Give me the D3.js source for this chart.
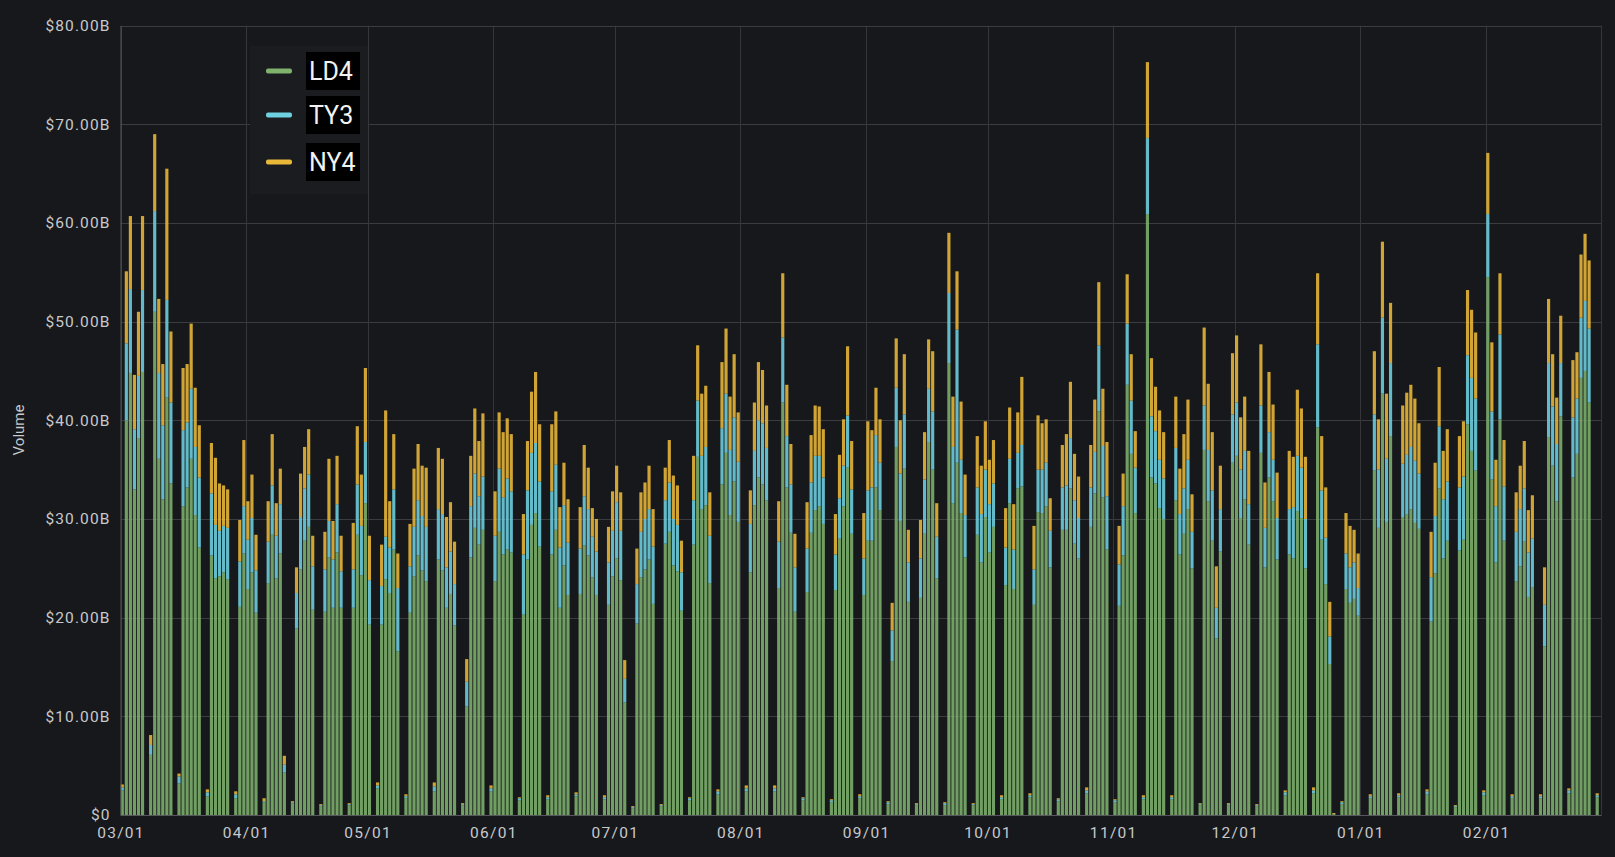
<!DOCTYPE html>
<html>
<head>
<meta charset="utf-8">
<script src="https://cdn.jsdelivr.net/npm/d3@7"></script>
<style>
  html, body { margin: 0; padding: 0; background: #17181b; }
  svg { display: block; }
  .tick text { font-family: Roboto, "Noto Sans", sans-serif; }
</style>
</head>
<body>
<div id="chart"></div>
<script>
// Daily volume in $B, one row per week (Sun, Mon .. Fri, Sat), from 2020-03-01
const startDay = '2020-03-01';
const seriesNames = ['LD4', 'TY3', 'NY4'];
const seriesColors = ['#7EB26D', '#6ED0E0', '#EAB839'];

const ld4 = [
  2.5, 40.0, 44.8, 33.0, 38.2, 44.9, 0,
  6.1, 51.0, 36.1, 32.0, 42.3, 33.6, 0,
  3.2, 31.3, 33.2, 36.1, 30.4, 27.1, 0,
  1.9, 26.3, 24.0, 24.2, 24.6, 23.9, 0,
  1.7, 21.1, 26.5, 22.9, 24.6, 20.5, 0,
  1.3, 23.5, 28.4, 24.0, 26.5, 4.3, 0,
  1.2, 18.9, 24.9, 27.8, 29.2, 20.8, 0,
  0.9, 20.6, 26.1, 21.0, 26.6, 21.0, 0,
  1.0, 21.0, 28.4, 24.3, 31.6, 19.3, 0,
  2.7, 19.3, 23.9, 22.5, 26.9, 16.6, 0,
  1.7, 20.5, 24.2, 26.3, 24.8, 23.7, 0,
  2.4, 25.9, 24.8, 21.0, 22.4, 19.2, 0,
  1.0, 11.0, 26.1, 29.1, 27.4, 28.9, 0,
  2.4, 23.7, 28.7, 26.4, 26.9, 26.6, 0,
  1.5, 20.3, 25.9, 29.4, 30.6, 27.2, 0,
  1.6, 26.4, 28.9, 21.0, 25.3, 22.3, 0,
  1.9, 22.4, 27.3, 26.3, 24.1, 22.3, 0,
  1.6, 21.3, 24.2, 26.0, 23.8, 11.4, 0,
  0.7, 19.4, 24.1, 24.9, 25.9, 21.4, 0,
  0.9, 27.5, 28.7, 25.3, 24.7, 20.7, 0,
  1.5, 27.4, 36.3, 31.0, 31.4, 23.5, 0,
  2.1, 33.5, 36.7, 30.4, 33.8, 29.7, 0,
  2.4, 24.6, 31.4, 34.2, 33.5, 31.9, 0,
  2.4, 23.0, 41.8, 33.2, 28.6, 20.6, 0,
  1.5, 22.6, 28.6, 30.9, 31.3, 29.5, 0,
  1.3, 22.8, 28.0, 31.3, 35.2, 28.5, 0,
  1.7, 22.3, 27.8, 27.8, 33.2, 30.9, 0,
  1.1, 15.6, 37.3, 29.8, 35.1, 21.6, 0,
  1.0, 22.0, 28.5, 37.8, 35.0, 24.0, 0,
  1.0, 45.8, 31.6, 35.7, 30.6, 26.1, 0,
  1.0, 28.4, 25.6, 30.2, 26.6, 29.2, 0,
  1.6, 23.3, 31.6, 22.9, 33.1, 33.3, 0,
  1.8, 21.3, 30.7, 30.6, 31.3, 25.1, 0,
  1.4, 28.9, 28.9, 33.1, 27.5, 26.0, 0,
  2.2, 29.2, 32.6, 40.9, 32.2, 26.9, 0,
  1.3, 21.2, 26.3, 43.6, 36.6, 30.6, 0,
  1.6, 60.9, 34.2, 33.6, 31.1, 30.0, 0,
  1.6, 31.9, 26.4, 28.5, 31.0, 25.0, 0,
  1.0, 37.0, 31.8, 27.8, 17.9, 26.7, 0,
  1.0, 35.7, 36.4, 30.1, 32.0, 27.4, 0,
  0.9, 36.7, 25.1, 34.2, 31.8, 25.9, 0,
  2.0, 26.4, 26.0, 30.8, 30.1, 25.0, 0,
  2.2, 39.3, 27.9, 23.4, 15.3, 0.1, 0,
  1.1, 22.9, 21.5, 21.9, 20.2, 0, 0,
  1.7, 34.9, 29.1, 42.7, 29.7, 38.4, 0,
  1.8, 30.2, 30.5, 31.0, 29.6, 29.0, 0,
  2.1, 19.6, 24.5, 33.1, 26.0, 27.8, 0,
  0.8, 26.8, 27.9, 39.6, 36.9, 34.9, 0,
  2.0, 54.5, 34.0, 25.6, 40.1, 27.8, 0,
  1.7, 23.7, 25.2, 27.7, 22.1, 23.1, 0,
  1.7, 17.1, 38.3, 35.4, 31.8, 40.4, 0,
  2.2, 34.2, 36.6, 44.3, 45.0, 41.8, 0,
  1.8
];

const ty3 = [
  0.3, 7.8, 8.5, 6.1, 6.3, 8.3, 0,
  1.0, 10.2, 8.7, 7.5, 9.9, 8.2, 0,
  0.7, 7.7, 6.6, 7.1, 6.9, 7.1, 0,
  0.4, 6.3, 5.4, 4.6, 4.7, 5.2, 0,
  0.4, 4.6, 4.8, 5.0, 5.5, 4.3, 0,
  0.1, 4.2, 5.0, 4.3, 5.0, 0.8, 0,
  0.1, 3.6, 5.3, 5.3, 5.3, 4.4, 0,
  0.1, 4.3, 3.7, 4.9, 4.9, 3.7, 0,
  0.1, 3.9, 5.1, 5.0, 6.2, 4.5, 0,
  0.3, 3.9, 4.3, 4.6, 6.1, 6.4, 0,
  0.2, 4.7, 5.0, 5.6, 5.5, 5.5, 0,
  0.5, 5.1, 5.7, 4.1, 4.3, 4.2, 0,
  0.1, 2.5, 5.2, 5.5, 4.9, 5.4, 0,
  0.3, 4.6, 6.4, 5.8, 7.2, 6.2, 0,
  0.2, 6.1, 7.0, 7.3, 7.1, 6.6, 0,
  0.2, 6.4, 6.6, 6.1, 6.1, 5.3, 0,
  0.2, 4.6, 5.0, 4.7, 4.1, 4.4, 0,
  0.2, 4.3, 4.6, 5.7, 5.0, 2.4, 0,
  0.1, 4.0, 4.6, 5.1, 5.1, 5.8, 0,
  0.1, 4.4, 5.0, 4.7, 4.7, 3.9, 0,
  0.2, 4.5, 5.7, 5.4, 5.9, 4.8, 0,
  0.3, 5.7, 6.0, 6.6, 6.5, 6.1, 0,
  0.3, 4.9, 5.5, 5.8, 6.2, 5.3, 0,
  0.3, 4.7, 6.6, 5.2, 4.9, 4.5, 0,
  0.2, 4.4, 5.1, 5.5, 5.1, 4.7, 0,
  0.2, 3.6, 4.1, 4.1, 5.3, 4.5, 0,
  0.2, 3.7, 5.1, 5.4, 5.3, 4.8, 0,
  0.2, 3.1, 6.0, 4.8, 5.5, 4.0, 0,
  0.1, 4.0, 5.5, 5.4, 5.9, 4.2, 0,
  0.2, 7.1, 5.7, 13.5, 5.4, 4.3, 0,
  0.1, 4.8, 4.9, 4.8, 4.9, 4.4, 0,
  0.2, 3.8, 4.5, 4.0, 3.6, 4.2, 0,
  0.2, 3.6, 4.3, 4.4, 4.4, 3.7, 0,
  0.2, 4.3, 4.5, 5.1, 4.4, 4.1, 0,
  0.3, 4.0, 4.2, 6.7, 5.2, 5.4, 0,
  0.2, 4.2, 5.0, 6.2, 5.4, 4.6, 0,
  0.2, 7.7, 6.2, 5.3, 4.9, 4.1, 0,
  0.2, 5.3, 4.1, 4.6, 5.0, 3.7, 0,
  0.1, 4.5, 5.2, 5.1, 3.1, 4.3, 0,
  0.1, 4.9, 5.4, 4.9, 4.9, 4.1, 0,
  0.1, 4.8, 4.0, 4.6, 4.2, 4.2, 0,
  0.3, 4.6, 5.2, 5.6, 5.1, 5.0, 0,
  0.3, 8.4, 5.0, 4.7, 2.8, 0, 0,
  0.2, 3.6, 3.6, 3.7, 2.8, 0, 0,
  0.2, 5.7, 5.9, 7.7, 6.4, 7.4, 0,
  0.2, 5.4, 6.0, 6.3, 6.3, 5.6, 0,
  0.3, 4.5, 5.8, 6.3, 6.0, 6.0, 0,
  0.1, 6.4, 6.4, 7.0, 7.4, 7.3, 0,
  0.3, 6.4, 6.9, 5.7, 8.6, 5.5, 0,
  0.2, 5.0, 5.8, 5.4, 4.5, 4.9, 0,
  0.2, 4.2, 7.5, 6.0, 5.8, 5.4, 0,
  0.3, 6.1, 5.6, 6.1, 7.1, 7.5, 0,
  0.2
];

const ny4 = [
  0.3, 7.3, 7.4, 5.5, 6.5, 7.5, 0,
  1.0, 7.8, 7.5, 6.2, 13.3, 7.2, 0,
  0.3, 6.3, 5.9, 6.6, 6.0, 5.3, 0,
  0.3, 5.1, 6.8, 4.8, 4.1, 3.9, 0,
  0.3, 4.2, 6.7, 3.9, 4.4, 3.6, 0,
  0.3, 4.1, 5.2, 3.3, 3.6, 0.9, 0,
  0.1, 2.6, 4.4, 4.2, 4.6, 3.1, 0,
  0.1, 3.8, 6.3, 3.9, 4.9, 3.6, 0,
  0.1, 4.7, 5.9, 5.2, 7.5, 4.5, 0,
  0.3, 4.2, 12.8, 4.7, 5.6, 3.5, 0,
  0.2, 4.3, 5.9, 5.7, 5.1, 6.0, 0,
  0.4, 6.2, 5.6, 5.1, 5.0, 4.3, 0,
  0.1, 2.3, 5.1, 6.6, 5.6, 6.4, 0,
  0.3, 4.5, 5.7, 6.6, 6.1, 5.8, 0,
  0.1, 4.1, 5.0, 6.2, 7.2, 5.8, 0,
  0.2, 6.8, 5.4, 4.1, 4.3, 4.4, 0,
  0.2, 4.2, 5.2, 4.2, 2.9, 3.3, 0,
  0.2, 3.6, 4.0, 3.7, 3.9, 1.9, 0,
  0.1, 3.6, 4.0, 3.7, 4.4, 3.8, 0,
  0.1, 3.3, 4.3, 4.4, 4.0, 3.2, 0,
  0.1, 4.5, 5.6, 6.3, 6.2, 4.4, 0,
  0.2, 6.7, 6.6, 5.4, 6.4, 5.0, 0,
  0.3, 3.4, 4.9, 5.9, 5.4, 4.3, 0,
  0.3, 4.1, 6.5, 5.2, 4.1, 3.4, 0,
  0.1, 4.7, 4.8, 5.1, 5.0, 4.9, 0,
  0.1, 4.1, 4.4, 4.7, 7.0, 4.9, 0,
  0.2, 4.6, 7.0, 5.8, 4.8, 4.4, 0,
  0.1, 2.8, 5.0, 5.4, 6.1, 3.3, 0,
  0.1, 3.9, 4.8, 5.0, 6.1, 3.4, 0,
  0.1, 6.1, 5.1, 5.9, 5.9, 4.1, 0,
  0.1, 5.2, 4.9, 4.9, 4.5, 4.4, 0,
  0.2, 4.0, 5.2, 4.6, 4.1, 6.9, 0,
  0.2, 4.4, 5.5, 4.7, 4.4, 3.3, 0,
  0.1, 4.3, 5.2, 5.7, 4.7, 4.2, 0,
  0.3, 4.3, 5.3, 6.4, 5.8, 5.5, 0,
  0.1, 3.9, 3.3, 5.0, 4.7, 3.7, 0,
  0.2, 7.7, 5.9, 4.5, 5.0, 4.7, 0,
  0.2, 5.2, 4.6, 5.5, 6.1, 3.8, 0,
  0.1, 7.9, 6.7, 5.9, 4.2, 4.4, 0,
  0.1, 6.2, 6.8, 5.3, 5.5, 5.4, 0,
  0.1, 6.2, 4.6, 6.1, 5.6, 4.6, 0,
  0.2, 5.9, 5.1, 6.7, 6.0, 6.3, 0,
  0.3, 7.2, 5.5, 5.1, 3.5, 0.1, 0,
  0.1, 4.1, 4.2, 3.3, 3.5, 0, 0,
  0.2, 6.4, 5.1, 7.7, 6.6, 6.1, 0,
  0.2, 5.9, 6.3, 6.3, 6.3, 5.1, 0,
  0.2, 4.6, 5.4, 6.0, 4.9, 5.3, 0,
  0.1, 5.2, 5.6, 6.6, 6.9, 6.7, 0,
  0.2, 6.2, 7.0, 4.7, 6.2, 4.7, 0,
  0.2, 4.0, 4.4, 4.8, 4.3, 4.4, 0,
  0.2, 3.8, 6.5, 5.3, 4.7, 4.8, 0,
  0.2, 5.8, 4.7, 6.4, 6.8, 6.9, 0,
  0.2
];

const yTicks = [0, 10, 20, 30, 40, 50, 60, 70, 80];
const monthTicks = ['2020-03-01', '2020-04-01', '2020-05-01', '2020-06-01', '2020-07-01', '2020-08-01',
  '2020-09-01', '2020-10-01', '2020-11-01', '2020-12-01', '2021-01-01', '2021-02-01'];

// frame
const W = 1615, H = 857;
const plotLeft = 120.5, plotRight = 1601, plotTop = 25.6, plotBottom = 815;

const parseDay = d3.timeParse('%Y-%m-%d');
const day0 = parseDay(startDay);

const rows = ld4.map((v, i) => ({
  date: d3.timeDay.offset(day0, i),
  LD4: v, TY3: ty3[i], NY4: ny4[i]
}));

const x = d3.scaleTime()
  .domain([day0, d3.timeHour.offset(parseDay('2021-03-01'), 9)])
  .range([plotLeft, plotRight]);

const y = d3.scaleLinear()
  .domain([0, 80])
  .range([plotBottom, plotTop]);

const svg = d3.select('#chart').append('svg')
  .attr('width', W)
  .attr('height', H);

svg.append('rect').attr('width', W).attr('height', H).attr('fill', '#17181b');

// grid
const grid = svg.append('g');
grid.selectAll('.hgrid').data(yTicks).join('line')
  .attr('x1', plotLeft).attr('x2', plotRight)
  .attr('y1', d => Math.round(y(d)) + 0.5).attr('y2', d => Math.round(y(d)) + 0.5)
  .attr('stroke', '#3a3c40').attr('stroke-width', 1);

const monthDates = monthTicks.map(parseDay);
grid.selectAll('.vgrid').data(monthDates).join('line')
  .attr('x1', d => Math.round(x(d)) + 0.5).attr('x2', d => Math.round(x(d)) + 0.5)
  .attr('y1', plotTop).attr('y2', plotBottom)
  .attr('stroke', '#34363a').attr('stroke-width', 1);

grid.append('line')
  .attr('x1', plotRight + 0.5).attr('x2', plotRight + 0.5)
  .attr('y1', plotTop).attr('y2', plotBottom)
  .attr('stroke', '#34363a');

// bars
const stack = d3.stack().keys(seriesNames);
const layers = stack(rows);
const dayW = x(d3.timeDay.offset(day0, 1)) - x(day0);
const barW = dayW * 0.78;

svg.append('g')
  .selectAll('g')
  .data(layers)
  .join('g')
  .attr('fill', (d, i) => seriesColors[i])
  .attr('fill-opacity', 0.88)
  .selectAll('rect')
  .data(d => d.filter(p => p[1] - p[0] > 0))
  .join('rect')
  .attr('x', d => x(d.data.date) + 0.2)
  .attr('width', barW)
  .attr('y', d => y(d[1]))
  .attr('height', d => y(d[0]) - y(d[1]));

// axes
const yAxis = d3.axisLeft(y)
  .tickValues(yTicks)
  .tickSize(0)
  .tickPadding(10)
  .tickFormat(d => d === 0 ? '$0' : '$' + d3.format('.2f')(d) + 'B');

svg.append('g')
  .attr('transform', `translate(${plotLeft},0)`)
  .call(yAxis)
  .call(g => g.select('.domain').attr('stroke', '#55575c'))
  .call(g => g.selectAll('text')
    .attr('fill', '#c7c9cc')
    .style('font-size', '15.5px')
    .style('letter-spacing', '1.1px'));

const xAxis = d3.axisBottom(x)
  .tickValues(monthDates)
  .tickSize(0)
  .tickPadding(12)
  .tickFormat(d3.timeFormat('%m/%d'));

svg.append('g')
  .attr('transform', `translate(0,${plotBottom})`)
  .call(xAxis)
  .call(g => g.select('.domain').attr('stroke', '#55575c'))
  .call(g => g.selectAll('text')
    .attr('fill', '#c7c9cc')
    .style('font-size', '15.5px')
    .style('letter-spacing', '1.3px'));

svg.append('text')
  .attr('transform', 'translate(24,430) rotate(-90)')
  .attr('text-anchor', 'middle')
  .attr('fill', '#c7c9cc')
  .style('font-family', 'Roboto, "Noto Sans", sans-serif')
  .style('font-size', '15px')
  .text('Volume');

// legend
const legend = svg.append('g');
legend.append('rect')
  .attr('x', 250).attr('y', 46).attr('width', 118).attr('height', 148)
  .attr('fill', '#1a1c20');

const legendItems = legend.selectAll('g')
  .data(seriesNames)
  .join('g')
  .attr('transform', (d, i) => `translate(0,${[71, 115, 162][i]})`);

legendItems.append('rect')
  .attr('x', 266).attr('y', -2.5).attr('width', 26).attr('height', 5).attr('rx', 2)
  .attr('fill', (d, i) => seriesColors[i]);

legendItems.append('rect')
  .attr('x', 306).attr('y', -19).attr('width', 54).attr('height', 38)
  .attr('fill', '#000');

legendItems.append('text')
  .attr('x', 309).attr('y', 9)
  .attr('fill', '#f2f2f2')
  .style('font-family', 'Roboto, "Noto Sans", sans-serif')
  .style('font-size', '25px')
  .text(d => d);
</script>
</body>
</html>
